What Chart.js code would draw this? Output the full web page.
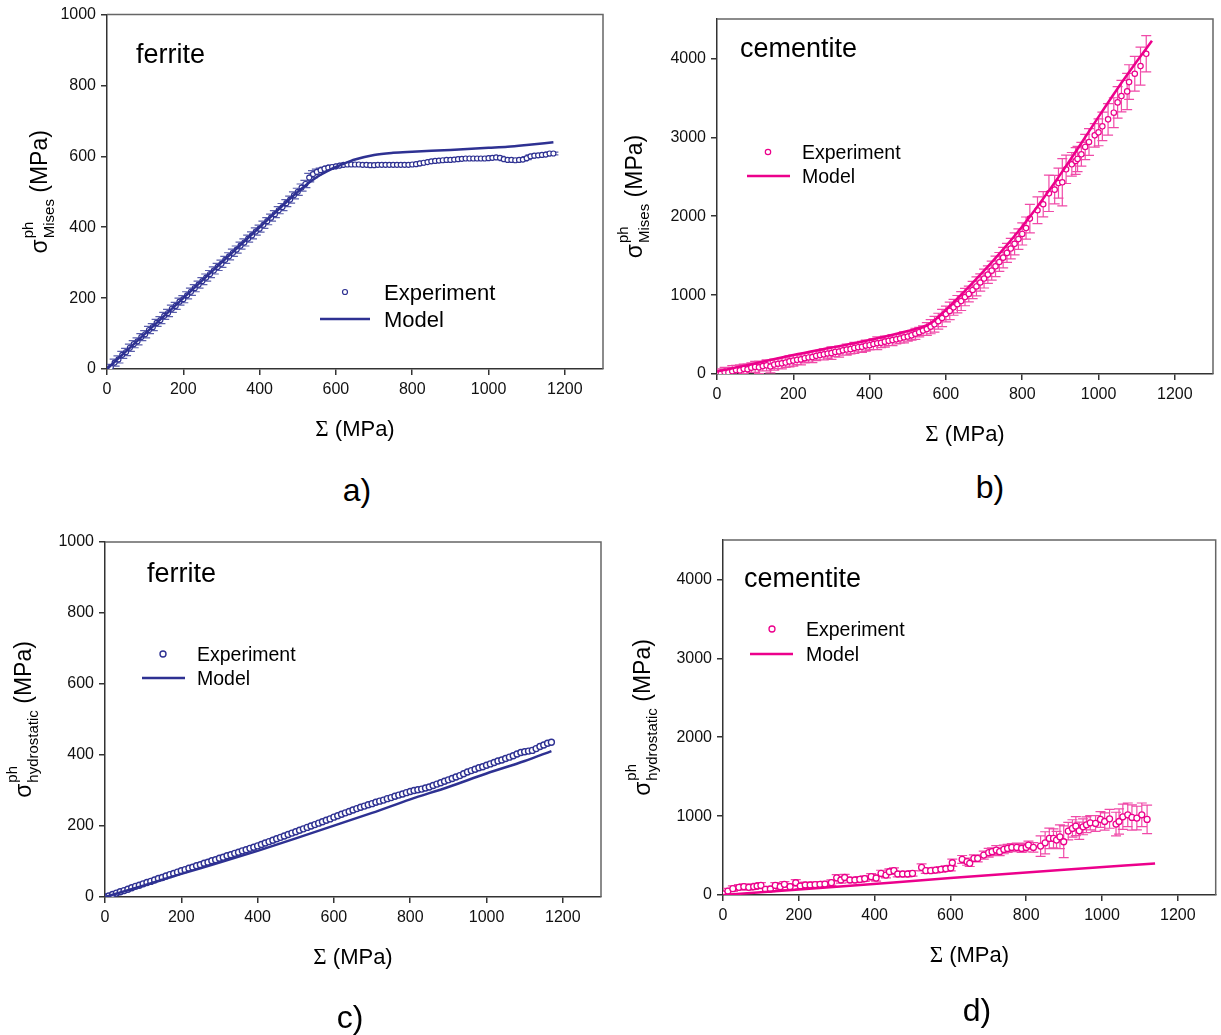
<!DOCTYPE html>
<html>
<head>
<meta charset="utf-8">
<title>Phase stresses: ferrite and cementite</title>
<script src="https://cdn.jsdelivr.net/npm/chart.js@4.4.1/dist/chart.umd.min.js"></script>
<style>
html,body{margin:0;padding:0;background:#fff;}
body{width:1221px;height:1035px;position:relative;overflow:hidden;font-family:"Liberation Sans",Arial,sans-serif;}
canvas{position:absolute;}
.plabel{position:absolute;font-size:32px;line-height:32px;color:#000;transform:translate(-50%,-50%);white-space:nowrap;}
</style>
</head>
<body>
<canvas id="chA" width="610" height="460" style="left:0px;top:0px"></canvas>
<canvas id="chB" width="611" height="460" style="left:610px;top:0px"></canvas>
<canvas id="chC" width="610" height="515" style="left:0px;top:520px"></canvas>
<canvas id="chD" width="611" height="515" style="left:610px;top:520px"></canvas>
<div class="plabel" style="left:357px;top:490px">a)</div>
<div class="plabel" style="left:990px;top:487px">b)</div>
<div class="plabel" style="left:350px;top:1017px">c)</div>
<div class="plabel" style="left:977px;top:1010px">d)</div>
<script>
// ---------------- DATA ----------------
const sigmaTicks = [0, 200, 400, 600, 800, 1000, 1200];
const ferriteTicks = [0, 200, 400, 600, 800, 1000];
const cementiteTicks = [0, 1000, 2000, 3000, 4000];
const legendLabels = ['Model', 'Experiment'];

// applied stress grid of the ferrite measurements (panels a and c)
const ferriteSigma = [
  0,10,20,30,40,50,60,70,80,90,
  100,110,120,130,140,150,160,170,180,190,
  200,210,220,230,240,250,260,270,280,290,
  300,310,320,330,340,350,360,370,380,390,
  400,410,420,430,440,450,460,470,480,490,
  500,510,520,530,540,550,560,570,580,590,
  600,610,620,630,640,650,660,670,680,690,
  700,710,720,730,740,750,760,770,780,790,
  800,810,820,830,840,850,860,870,880,890,
  900,910,920,930,940,950,960,970,980,990,
  1000,1010,1020,1030,1040,1050,1060,1070,1080,1090,
  1100,1110,1120,1130,1140,1150,1160,1170
];

// a) ferrite, von Mises
const aExpMises = [
  0,5,18,27,40,48,60,70,78,90,
  98,110,118,130,138,150,158,170,178,190,
  197,208,218,228,238,248,258,268,278,288,
  297,308,318,328,337,348,357,368,377,388,
  396,407,417,427,437,448,457,468,478,490,
  500,512,522,540,550,556,561,565,568,570,
  572,574,576,577,577,577,577,576,576,575,
  575,576,576,576,576,576,576,576,576,576,
  577,578,580,582,584,586,587,588,589,590,
  590,591,592,593,594,594,594,594,594,594,
  595,596,597,596,592,590,590,589,590,591,
  595,600,602,603,604,605,608,608
];
const aExpErr = [
  4,8,10,10,10,10,10,10,10,10,
  10,10,10,10,10,10,10,10,10,10,
  10,10,10,10,10,10,10,10,10,10,
  10,10,10,10,10,10,10,10,10,10,
  10,10,10,10,10,10,10,10,10,10,
  10,10,10,12,10,8,6,5,5,5,
  4,4,4,4,4,4,4,4,4,4,
  4,4,4,4,4,4,4,4,4,4,
  4,4,4,4,4,4,4,4,4,4,
  4,4,4,4,4,4,4,4,4,4,
  4,4,4,4,4,4,4,4,4,4,
  4,4,4,4,4,4,4,4
];
const aModelSigma = [0,100,200,300,400,500,520,540,560,580,600,620,650,700,750,800,900,1000,1050,1100,1170];
const aModelMises = [0,100,200,300,400,500,518,534,548,560,570,579,591,604,610,613,618,624,627,632,640];

// b) cementite, von Mises
const bExpSigma = [
  0,10,20,30,40,50,60,70,80,90,
  100,110,120,130,140,150,160,170,180,190,
  200,210,220,230,240,250,260,270,280,290,
  300,310,320,330,340,350,360,370,380,390,
  400,410,420,430,440,450,460,470,480,490,
  500,510,520,530,540,550,560,
  570,580,590,600,610,620,630,640,650,660,670,680,690,700,710,720,730,740,750,760,770,780,790,800,810,
  820,840,855,870,885,895,905,915,930,940,945,955,965,975,990,1000,1010,1025,1040,1050,1060,1075,1080,1095,1110,1125
];
const bExpMises = [
  5,15,25,20,35,50,45,65,60,80,
  90,85,100,110,95,120,130,135,145,160,
  170,180,185,200,210,215,230,240,250,260,
  265,280,285,300,310,315,330,340,345,360,
  365,380,390,395,410,420,430,440,450,465,
  475,490,510,530,550,570,600,
  630,670,710,760,800,845,885,925,975,1015,1065,1110,1160,1210,1260,1310,1365,1420,1475,1535,1590,1650,1710,1775,1850,
  1970,2076,2152,2290,2337,2420,2430,2595,2658,2700,2726,2785,2878,2941,3025,3063,3139,3228,3312,3443,3523,3582,3700,3806,3903,4059
];
const bExpErr = [
  40,50,60,60,70,60,70,60,70,60,
  70,80,60,70,80,70,60,70,60,70,
  70,60,70,60,60,70,60,60,70,60,
  80,60,70,60,70,60,70,60,70,70,
  60,70,80,60,70,60,70,60,60,70,
  60,60,70,60,60,80,90,
  100,100,110,100,110,100,110,120,110,100,110,120,110,120,110,120,130,120,130,120,130,140,130,140,140,
  180,170,160,230,180,190,300,180,150,170,160,150,160,170,150,170,180,200,190,200,200,230,220,220,240,230
];
const bModelSigma = [0,100,200,300,400,500,540,560,580,600,650,700,750,800,850,900,950,1000,1050,1100,1140];
const bModelMises = [30,135,240,335,430,545,600,645,725,815,1055,1310,1580,1870,2190,2530,2890,3260,3620,3960,4225];

// c) ferrite, hydrostatic
const cExpHydro = [
  0,3,7,11,15,18,22,26,30,33,
  37,41,44,48,52,55,59,63,66,70,
  74,77,81,84,88,91,95,98,102,105,
  109,112,116,119,123,126,130,133,137,140,
  144,148,152,156,160,164,168,172,176,180,
  184,188,192,196,200,204,208,212,216,220,
  225,229,233,237,241,245,249,253,256,260,
  263,267,270,273,277,280,284,287,290,294,
  297,300,302,304,307,310,314,318,322,326,
  330,334,338,342,347,352,356,360,364,367,
  371,375,379,383,386,390,394,398,403,407,
  409,411,413,418,424,428,433,436
];
const cModelSigma = [0,100,200,300,400,500,600,700,800,900,1000,1100,1170];
const cModelHydro = [0,32,65,97,130,165,201,237,275,310,348,383,411];

// d) cementite, hydrostatic
const dExpSigma = [
  0,13,26,42,55,68,81,90,100,112,125,138,151,162,177,192,204,217,230,243,256,269,
  286,300,311,321,335,348,361,374,391,404,417,430,439,451,461,474,487,500,524,535,548,561,575,588,601,
  605,631,644,651,662,672,688,701,710,721,730,741,751,762,775,788,800,806,819,
  838,850,861,872,880,889,899,
  911,922,931,940,950,959,969,983,996,1007,1020,
  1037,1045,1055,1068,1079,1092,1105,1119
];
const dExpHydro = [
  13,50,80,97,105,97,105,114,122,72,76,122,105,135,105,155,114,127,127,131,135,139,
  156,218,190,222,190,190,198,207,232,215,274,253,295,308,266,266,266,274,350,308,308,316,325,333,342,
  409,451,422,401,464,464,506,536,549,570,549,578,591,603,603,591,603,633,603,
  620,662,717,717,696,738,675,
  810,844,873,814,864,890,915,907,958,932,966,
  899,932,991,1016,983,975,1016,958
];
const dExpErr = [
  30,35,35,35,35,35,35,35,35,35,35,35,35,35,35,40,35,35,35,35,35,35,
  35,40,40,40,35,35,35,35,40,40,40,35,35,35,35,35,35,35,45,35,35,35,35,35,35,
  45,50,45,40,45,45,50,55,50,55,50,55,50,50,55,50,55,50,60,
  130,140,130,120,110,150,200,
  110,110,120,110,100,100,90,100,100,110,120,
  150,160,160,150,160,150,150,180
];
const dModelSigma = [0,300,600,900,1140];
const dModelHydro = [0,105,215,320,400];

// ---------------- DRAWING ----------------
const FONT = '"Liberation Sans", Arial, sans-serif';
const SERIF = '"Liberation Serif", "Times New Roman", serif';
const BLUE = '#2E3192', BLUE_ERR = '#5A5EAC';
const PINK = '#EC008C', PINK_ERR = '#F04AA8';
Chart.defaults.font.family = FONT;

function pts(xs, ys) { return xs.map((x, i) => ({ x: x, y: ys[i] })); }

const extras = {
  id: 'extras',
  beforeDatasetsDraw(chart, args, o) {
    const ds = chart.data.datasets[1];
    const errs = chart.$errors;
    if (!errs) return;
    const xs = chart.scales.x, ys = chart.scales.y, ctx = chart.ctx, a = chart.chartArea;
    ctx.save();
    ctx.beginPath(); ctx.rect(a.left, a.top, a.right - a.left, a.bottom - a.top); ctx.clip();
    ctx.strokeStyle = o.errColor; ctx.lineWidth = 1.2;
    ctx.beginPath();
    ds.data.forEach((p, i) => {
      const e = errs[i]; if (!e) return;
      const px = xs.getPixelForValue(p.x), t = ys.getPixelForValue(p.y + e), b = ys.getPixelForValue(p.y - e);
      ctx.moveTo(px, t); ctx.lineTo(px, b);
      ctx.moveTo(px - o.cap, t); ctx.lineTo(px + o.cap, t);
      ctx.moveTo(px - o.cap, b); ctx.lineTo(px + o.cap, b);
    });
    ctx.stroke();
    ctx.restore();
  },
  afterDraw(chart, args, o) {
    const ctx = chart.ctx, a = chart.chartArea;
    ctx.save();
    // frame top / right
    ctx.strokeStyle = '#666'; ctx.lineWidth = 1.5;
    ctx.beginPath();
    ctx.moveTo(a.left, a.top); ctx.lineTo(a.right, a.top); ctx.lineTo(a.right, a.bottom);
    ctx.stroke();
    ctx.fillStyle = '#000'; ctx.textAlign = 'left'; ctx.textBaseline = 'alphabetic';
    // phase annotation
    ctx.font = o.annSize + 'px ' + FONT;
    ctx.fillText(o.annText, o.annX, o.annY);
    // legend
    const L = o.legend;
    const half = 0.716 * L.size / 2;
    ctx.beginPath(); ctx.arc(L.mx, L.my, o.r, 0, Math.PI * 2);
    ctx.fillStyle = '#fff'; ctx.fill(); ctx.strokeStyle = o.color; ctx.lineWidth = o.bw; ctx.stroke();
    ctx.beginPath(); ctx.moveTo(L.lx1, L.ly); ctx.lineTo(L.lx2, L.ly);
    ctx.strokeStyle = o.color; ctx.lineWidth = 2.5; ctx.stroke();
    ctx.fillStyle = '#000'; ctx.font = L.size + 'px ' + FONT;
    ctx.fillText(chart.data.datasets[1].label, L.tx, L.my + half);
    ctx.fillText(chart.data.datasets[0].label, L.tx, L.ly + half);
    // x title: Σ (MPa)
    ctx.font = '23px ' + SERIF; const wS = ctx.measureText('\u03A3').width;
    ctx.font = '22px ' + FONT; const wM = ctx.measureText(' (MPa)').width;
    const x0 = (a.left + a.right) / 2 - (wS + wM) / 2, yb = a.bottom + 67;
    ctx.font = '23px ' + SERIF; ctx.fillText('\u03A3', x0, yb);
    ctx.font = '22px ' + FONT; ctx.fillText(' (MPa)', x0 + wS, yb);
    // y title with super/subscript
    const T = o.ytitle;
    ctx.font = T.size + 'px ' + FONT;
    const wMain = ctx.measureText('\u03C3').width, wRest = ctx.measureText(' (MPa)').width;
    ctx.font = T.small + 'px ' + FONT;
    const wSup = ctx.measureText('ph').width, wSub = ctx.measureText(T.sub).width;
    const total = wMain + 1 + Math.max(wSup, wSub) + wRest;
    ctx.translate(T.x, (a.top + a.bottom) / 2);
    ctx.rotate(-Math.PI / 2);
    let s = -total / 2;
    ctx.font = T.size + 'px ' + FONT; ctx.fillText('\u03C3', s, 0); s += wMain + 1;
    ctx.font = T.small + 'px ' + FONT;
    ctx.fillText('ph', s, -T.sup); ctx.fillText(T.sub, s, T.subS);
    s += Math.max(wSup, wSub);
    ctx.font = T.size + 'px ' + FONT; ctx.fillText(' (MPa)', s, 0);
    ctx.restore();
  }
};

function makeChart(id, c) {
  const chart = new Chart(document.getElementById(id), {
    type: 'scatter',
    data: {
      datasets: [
        { label: legendLabels[0], data: pts(c.mx, c.my), showLine: true, borderColor: c.color,
          borderWidth: 2.5, pointRadius: 0, cubicInterpolationMode: 'monotone', fill: false, order: 0 },
        { label: legendLabels[1], data: pts(c.ex, c.ey), showLine: false, pointStyle: 'circle',
          pointRadius: c.r, pointBorderWidth: c.bw, pointBorderColor: c.color, pointBackgroundColor: '#fff', order: 1 }
      ]
    },
    options: {
      responsive: false, animation: false, events: [],
      layout: { padding: { top: c.padTop, right: c.padRight, left: 0, bottom: 0 } },
      plugins: {
        legend: { display: false }, tooltip: { enabled: false },
        extras: {
          errColor: c.errColor, cap: 5, color: c.color, r: c.r, bw: c.bw,
          annText: c.annText, annX: c.annX, annY: c.annY, annSize: 27,
          legend: c.legend, ytitle: c.ytitle
        }
      },
      scales: {
        x: {
          type: 'linear', min: 0, max: 1300,
          afterBuildTicks: s => { s.ticks = sigmaTicks.map(v => ({ value: v })); },
          afterFit: s => { s.height = c.xH; },
          grid: { drawOnChartArea: false, drawTicks: true, tickLength: 6, color: '#333', lineWidth: 1.5 },
          border: { color: '#333', width: 1.5 },
          ticks: { font: { size: 16, family: FONT }, color: '#111', padding: 5, maxRotation: 0, callback: v => String(v) }
        },
        y: {
          type: 'linear', min: 0, max: c.ymax,
          afterBuildTicks: s => { s.ticks = c.yticks.map(v => ({ value: v })); },
          afterFit: s => { s.width = c.yW; },
          grid: { drawOnChartArea: false, drawTicks: true, tickLength: 6, color: '#333', lineWidth: 1.5 },
          border: { color: '#333', width: 1.5 },
          ticks: { font: { size: 16, family: FONT }, color: '#111', padding: 5, callback: v => String(v) }
        }
      }
    },
    plugins: [extras]
  });
  chart.$errors = c.err;
  chart.draw();
  return chart;
}

makeChart('chA', {
  ex: ferriteSigma, ey: aExpMises, err: aExpErr, mx: aModelSigma, my: aModelMises,
  color: BLUE, errColor: BLUE_ERR, r: 2.5, bw: 1.2, ymax: 1000, yticks: ferriteTicks,
  padTop: 14, padRight: 7, yW: 107, xH: 91,
  annText: 'ferrite', annX: 136, annY: 63,
  legend: { mx: 345, my: 292, tx: 384, lx1: 320, lx2: 370, ly: 319, size: 22 },
  ytitle: { x: 47, size: 23, small: 15, sub: 'Mises', sup: 14, subS: 7 }
});
makeChart('chB', {
  ex: bExpSigma, ey: bExpMises, err: bExpErr, mx: bModelSigma, my: bModelMises,
  color: PINK, errColor: PINK_ERR, r: 2.7, bw: 1.2, ymax: 4500, yticks: cementiteTicks,
  padTop: 19, padRight: 8, yW: 107, xH: 86,
  annText: 'cementite', annX: 130, annY: 57,
  legend: { mx: 158, my: 152, tx: 192, lx1: 137, lx2: 180, ly: 176, size: 19.5 },
  ytitle: { x: 32, size: 23, small: 15, sub: 'Mises', sup: 14, subS: 7 }
});
makeChart('chC', {
  ex: ferriteSigma, ey: cExpHydro, err: null, mx: cModelSigma, my: cModelHydro,
  color: BLUE, errColor: BLUE_ERR, r: 3, bw: 1.4, ymax: 1000, yticks: ferriteTicks,
  padTop: 22, padRight: 9, yW: 105, xH: 138,
  annText: 'ferrite', annX: 147, annY: 62,
  legend: { mx: 163, my: 134, tx: 197, lx1: 142, lx2: 185, ly: 158, size: 19.5 },
  ytitle: { x: 31, size: 23, small: 15, sub: 'hydrostatic', sup: 14, subS: 7 }
});
makeChart('chD', {
  ex: dExpSigma, ey: dExpHydro, err: dExpErr, mx: dModelSigma, my: dModelHydro,
  color: PINK, errColor: PINK_ERR, r: 3, bw: 1.3, ymax: 4500, yticks: cementiteTicks,
  padTop: 20, padRight: 2, yW: 113, xH: 140,
  annText: 'cementite', annX: 134, annY: 67,
  legend: { mx: 162, my: 109, tx: 196, lx1: 140, lx2: 183, ly: 134, size: 19.5 },
  ytitle: { x: 40, size: 23, small: 15, sub: 'hydrostatic', sup: 14, subS: 7 }
});
</script>
</body>
</html>
